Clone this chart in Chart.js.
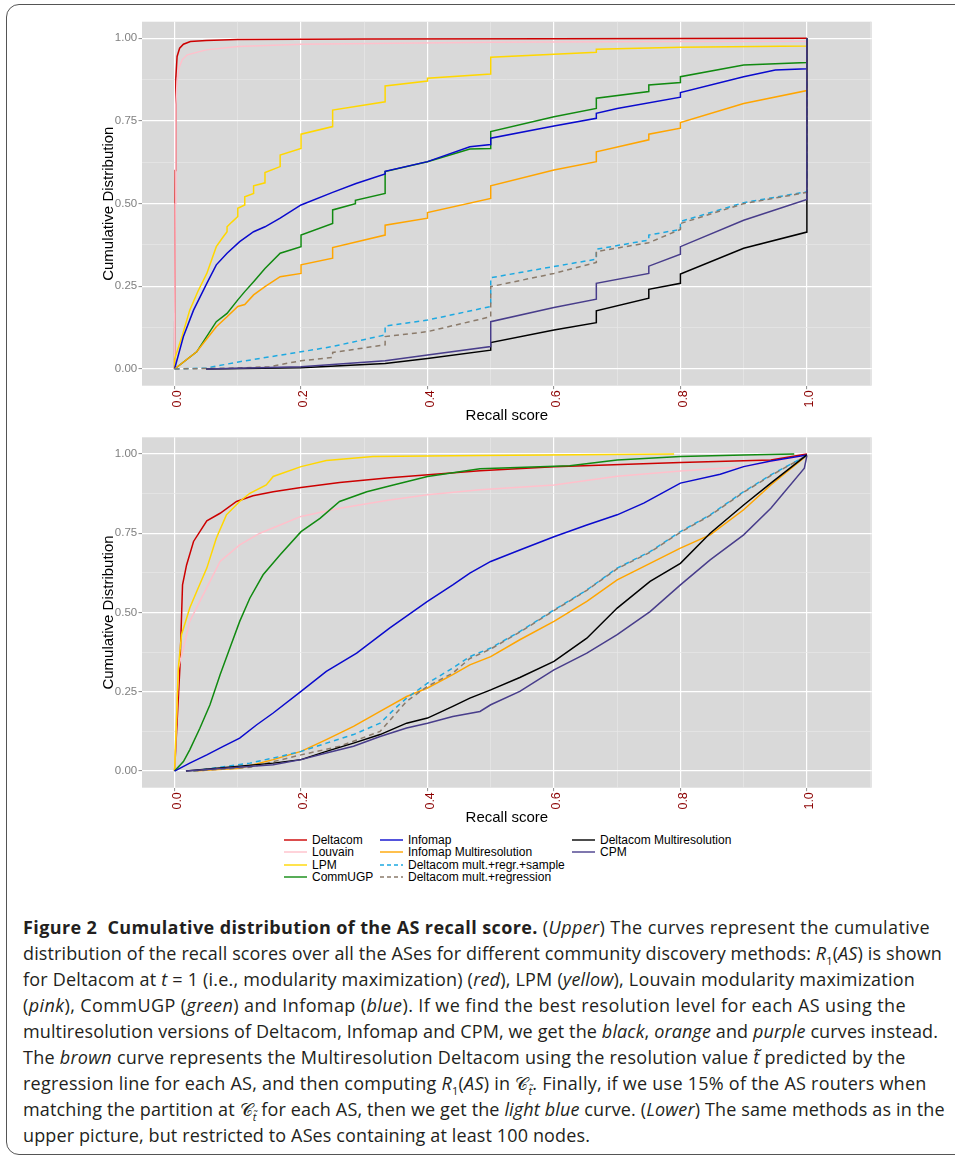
<!DOCTYPE html>
<html><head><meta charset="utf-8">
<script src="https://cdn.jsdelivr.net/npm/chart.js@4.4.0/dist/chart.umd.min.js"></script>
<style>
html,body{margin:0;padding:0;background:#fff}
body{width:955px;height:1161px;position:relative;overflow:hidden;font-family:'Liberation Sans',Arial,sans-serif}
#frame{position:absolute;left:6px;top:4px;width:1000px;height:1151px;border:1.3px solid #555;border-radius:13px;box-sizing:border-box}
#c1{position:absolute;left:0;top:0}
#c2{position:absolute;left:0;top:425px}
.lt{position:absolute;font-size:12px;line-height:14px;color:#000;white-space:nowrap}
.lk{position:absolute}
#caption{position:absolute;left:23px;top:914px;font-family:'Open Sans',sans-serif;font-size:18px;line-height:26px;color:#231f20;white-space:nowrap}
#caption div{height:26px}
#caption span.ln{display:inline-block}
#caption b{font-weight:700}
#caption sub{font-size:11px}
</style></head><body>
<div id="frame"></div>
<canvas id="c1" width="955" height="425"></canvas>
<canvas id="c2" width="955" height="405"></canvas>
<div id="legend"></div>
<div id="caption">
<div><span class="ln"><b>Figure 2&nbsp; Cumulative distribution of the AS recall score.</b> (<i>Upper</i>) The curves represent the cumulative</span></div>
<div><span class="ln">distribution of the recall scores over all the ASes for different community discovery methods: <i>R</i><sub>1</sub>(<i>AS</i>) is shown</span></div>
<div><span class="ln">for Deltacom at <i>t</i> = 1 (i.e., modularity maximization) (<i>red</i>), LPM (<i>yellow</i>), Louvain modularity maximization</span></div>
<div><span class="ln">(<i>pink</i>), CommUGP (<i>green</i>) and Infomap (<i>blue</i>). If we find the best resolution level for each AS using the</span></div>
<div><span class="ln">multiresolution versions of Deltacom, Infomap and CPM, we get the <i>black</i>, <i>orange</i> and <i>purple</i> curves instead.</span></div>
<div><span class="ln">The <i>brown</i> curve represents the Multiresolution Deltacom using the resolution value <i>t̃</i> predicted by the</span></div>
<div><span class="ln">regression line for each AS, and then computing <i>R</i><sub>1</sub>(<i>AS</i>) in 𝒞<sub><i>t̃</i></sub>. Finally, if we use 15% of the AS routers when</span></div>
<div><span class="ln">matching the partition at 𝒞<sub><i>t̃</i></sub> for each AS, then we get the <i>light blue</i> curve. (<i>Lower</i>) The same methods as in the</span></div>
<div><span class="ln">upper picture, but restricted to ASes containing at least 100 nodes.</span></div>
</div>
<script>
// ---------- series meta ----------
const seriesNames = ['Deltacom','Louvain','LPM','CommUGP','Infomap','Infomap Multiresolution','Deltacom mult.+regr.+sample','Deltacom mult.+regression','Deltacom Multiresolution','CPM'];
const seriesColors = ['#CC0000','#FFC0CB','#FFD700','#118A11','#0A0ACD','#FFA500','#1EA9E1','#8B7B6B','#000000','#483D8B'];
const seriesDashed = [false,false,false,false,false,false,true,true,false,false];

// ---------- axis ticks ----------
const xMajorValues = [0,0.2,0.4,0.6,0.8,1.0];
const xTickLabels = ['0.0','0.2','0.4','0.6','0.8','1.0'];
const xMinorValues = [0.1,0.3,0.5,0.7,0.9,1.1];
const yMajorValues = [0,0.25,0.5,0.75,1.0];
const yTickLabels = ['0.00','0.25','0.50','0.75','1.00'];
const yMinorValues = [0.125,0.375,0.625,0.875];

// ---------- upper panel data: [recall score, cumulative] ----------
const upDeltacom = [[0,0],[0.001,0.6],[0.002,0.88],[0.004,0.945],[0.008,0.97],[0.014,0.982],[0.025,0.99],[0.05,0.993],[0.1,0.996],[0.3,0.998],[0.6,0.999],[1,1]];
const upLouvain = [[0,0],[0.001,0.5],[0.002,0.8],[0.004,0.87],[0.007,0.91],[0.012,0.935],[0.02,0.95],[0.05,0.965],[0.1,0.975],[0.2,0.982],[0.5,0.988],[0.8,0.99],[1,0.991],[1,1]];
const upLPM = [[0,0],[0,0.03],[0.012,0.1],[0.024,0.178],[0.037,0.235],[0.051,0.289],[0.066,0.37],[0.077,0.40],[0.083,0.415],[0.083,0.43],[0.091,0.445],[0.1,0.461],[0.1,0.486],[0.111,0.496],[0.111,0.521],[0.125,0.531],[0.125,0.554],[0.143,0.563],[0.143,0.594],[0.167,0.612],[0.167,0.647],[0.2,0.667],[0.2,0.71],[0.25,0.733],[0.25,0.783],[0.333,0.808],[0.333,0.856],[0.4,0.871],[0.4,0.879],[0.5,0.892],[0.5,0.943],[0.667,0.958],[0.667,0.967],[0.8,0.973],[1,0.977],[1,1]];
const upCommUGP = [[0,0],[0.035,0.052],[0.066,0.143],[0.083,0.168],[0.1,0.209],[0.111,0.234],[0.125,0.264],[0.143,0.304],[0.167,0.35],[0.2,0.37],[0.2,0.405],[0.25,0.44],[0.25,0.481],[0.286,0.50],[0.286,0.51],[0.333,0.531],[0.333,0.597],[0.4,0.627],[0.467,0.665],[0.5,0.667],[0.5,0.718],[0.6,0.763],[0.667,0.788],[0.667,0.819],[0.75,0.839],[0.75,0.859],[0.8,0.866],[0.8,0.884],[0.9,0.919],[1,0.927],[1,1]];
const upInfomap = [[0,0],[0.014,0.098],[0.03,0.178],[0.051,0.259],[0.066,0.315],[0.083,0.35],[0.103,0.385],[0.125,0.415],[0.143,0.43],[0.167,0.456],[0.2,0.496],[0.25,0.534],[0.287,0.561],[0.333,0.59],[0.333,0.598],[0.4,0.627],[0.467,0.672],[0.5,0.679],[0.5,0.698],[0.6,0.735],[0.667,0.758],[0.667,0.773],[0.7,0.788],[0.8,0.822],[0.8,0.836],[0.9,0.884],[0.95,0.904],[1,0.908],[1,1]];
const upInfomapMulti = [[0,0],[0.035,0.052],[0.066,0.128],[0.083,0.158],[0.1,0.189],[0.111,0.195],[0.125,0.224],[0.143,0.249],[0.167,0.279],[0.2,0.289],[0.2,0.315],[0.25,0.335],[0.25,0.367],[0.333,0.405],[0.333,0.435],[0.4,0.456],[0.4,0.473],[0.5,0.516],[0.5,0.554],[0.6,0.602],[0.667,0.627],[0.667,0.657],[0.75,0.693],[0.75,0.71],[0.8,0.728],[0.8,0.745],[0.9,0.803],[1,0.842],[1,1]];
const upRegrSample = [[0,0],[0.05,0.003],[0.103,0.022],[0.2,0.052],[0.25,0.068],[0.333,0.103],[0.333,0.13],[0.4,0.148],[0.5,0.189],[0.5,0.276],[0.6,0.31],[0.667,0.332],[0.667,0.362],[0.75,0.39],[0.75,0.405],[0.8,0.422],[0.8,0.446],[0.9,0.503],[1,0.536],[1,1]];
const upRegression = [[0,0],[0.1,0.003],[0.15,0.007],[0.2,0.025],[0.25,0.035],[0.25,0.05],[0.333,0.073],[0.333,0.098],[0.4,0.113],[0.5,0.158],[0.5,0.249],[0.6,0.289],[0.667,0.322],[0.667,0.355],[0.75,0.382],[0.8,0.422],[0.8,0.44],[0.9,0.5],[1,0.534],[1,1]];
const upDeltacomMulti = [[0.05,0],[0.2,0.004],[0.333,0.017],[0.4,0.032],[0.5,0.057],[0.5,0.08],[0.6,0.118],[0.667,0.14],[0.667,0.176],[0.75,0.214],[0.75,0.241],[0.8,0.259],[0.8,0.287],[0.9,0.365],[1,0.414],[1,1]];
const upCPM = [[0.05,0],[0.2,0.007],[0.333,0.025],[0.4,0.042],[0.5,0.068],[0.5,0.143],[0.6,0.186],[0.667,0.211],[0.667,0.259],[0.75,0.289],[0.75,0.311],[0.8,0.347],[0.8,0.37],[0.9,0.45],[1,0.513],[1,1]];

// ---------- lower panel data (ASes with >= 100 nodes) ----------
const lowDeltacom = [[0,0],[0.0084,0.325],[0.0126,0.587],[0.019,0.65],[0.03,0.724],[0.04,0.755],[0.051,0.789],[0.072,0.813],[0.098,0.85],[0.124,0.868],[0.156,0.881],[0.2,0.894],[0.261,0.91],[0.34,0.925],[0.483,0.947],[0.6,0.96],[0.8,0.973],[0.943,0.981],[1,1]];
const lowLouvain = [[0,0],[0.006,0.325],[0.014,0.388],[0.024,0.472],[0.04,0.535],[0.056,0.598],[0.072,0.661],[0.103,0.713],[0.135,0.75],[0.167,0.776],[0.2,0.803],[0.261,0.829],[0.34,0.855],[0.4,0.871],[0.483,0.887],[0.6,0.902],[0.7,0.93],[0.8,0.946],[0.9,0.96],[1,0.995]];
const lowLPM = [[0,0],[0.006,0.325],[0.011,0.43],[0.024,0.514],[0.035,0.566],[0.051,0.64],[0.066,0.734],[0.082,0.808],[0.103,0.85],[0.119,0.876],[0.145,0.902],[0.156,0.929],[0.2,0.96],[0.24,0.979],[0.314,0.992],[0.483,0.995],[0.79,1.0]];
const lowCommUGP = [[0,0],[0.014,0.03],[0.024,0.067],[0.04,0.135],[0.056,0.209],[0.072,0.304],[0.0875,0.388],[0.103,0.472],[0.119,0.545],[0.14,0.619],[0.167,0.682],[0.2,0.755],[0.23,0.797],[0.261,0.85],[0.304,0.881],[0.346,0.902],[0.4,0.929],[0.483,0.953],[0.625,0.963],[0.7,0.981],[0.8,0.992],[0.9,0.997],[0.98,1.0]];
const lowInfomap = [[0,0],[0.024,0.025],[0.051,0.051],[0.077,0.078],[0.103,0.104],[0.13,0.146],[0.156,0.183],[0.2,0.251],[0.24,0.314],[0.288,0.372],[0.34,0.451],[0.4,0.535],[0.44,0.587],[0.467,0.624],[0.5,0.661],[0.546,0.697],[0.6,0.739],[0.652,0.776],[0.7,0.808],[0.742,0.845],[0.8,0.908],[0.863,0.936],[0.9,0.96],[0.943,0.978],[1,0.997]];
const lowInfomapMulti = [[0.03,0],[0.103,0.009],[0.156,0.036],[0.2,0.062],[0.24,0.099],[0.283,0.141],[0.325,0.188],[0.367,0.235],[0.4,0.262],[0.44,0.304],[0.467,0.335],[0.5,0.361],[0.546,0.414],[0.6,0.472],[0.652,0.535],[0.7,0.603],[0.752,0.655],[0.8,0.703],[0.847,0.745],[0.9,0.824],[0.943,0.902],[1,0.995]];
const lowRegrSample = [[0.03,0],[0.082,0.015],[0.119,0.025],[0.167,0.046],[0.2,0.062],[0.24,0.088],[0.283,0.115],[0.325,0.151],[0.35,0.20],[0.367,0.23],[0.4,0.277],[0.44,0.325],[0.467,0.361],[0.5,0.388],[0.546,0.44],[0.6,0.508],[0.652,0.571],[0.7,0.64],[0.752,0.692],[0.8,0.755],[0.847,0.808],[0.9,0.881],[0.943,0.934],[1,0.995]];
const lowRegression = [[0.03,0],[0.12,0.012],[0.2,0.051],[0.261,0.078],[0.325,0.125],[0.367,0.22],[0.4,0.267],[0.44,0.309],[0.467,0.355],[0.5,0.385],[0.546,0.438],[0.6,0.506],[0.652,0.57],[0.7,0.638],[0.752,0.69],[0.8,0.753],[0.847,0.806],[0.9,0.879],[0.943,0.932],[1,0.995]];
const lowDeltacomMulti = [[0.018,0],[0.156,0.025],[0.2,0.036],[0.24,0.062],[0.283,0.088],[0.325,0.115],[0.367,0.151],[0.4,0.167],[0.44,0.204],[0.467,0.23],[0.5,0.256],[0.546,0.295],[0.6,0.346],[0.652,0.419],[0.7,0.514],[0.752,0.598],[0.8,0.655],[0.847,0.75],[0.9,0.839],[0.943,0.908],[1,0.997]];
const lowCPM = [[0.018,0],[0.156,0.02],[0.2,0.036],[0.24,0.057],[0.283,0.078],[0.325,0.109],[0.367,0.136],[0.4,0.151],[0.44,0.172],[0.483,0.188],[0.5,0.209],[0.546,0.251],[0.6,0.319],[0.652,0.372],[0.7,0.43],[0.752,0.503],[0.8,0.587],[0.847,0.666],[0.9,0.745],[0.943,0.829],[0.996,0.955],[1,0.995]];

const upperSeries = [upDeltacom,upLouvain,upLPM,upCommUGP,upInfomap,upInfomapMulti,upRegrSample,upRegression,upDeltacomMulti,upCPM];
const lowerSeries = [lowDeltacom,lowLouvain,lowLPM,lowCommUGP,lowInfomap,lowInfomapMulti,lowRegrSample,lowRegression,lowDeltacomMulti,lowCPM];

// caption line right edges (px) in the figure, used only for text fitting
const captionRightEdges = [930, 942, 915, 906, 938, 906, 927, 945, 590];

// ---------- helpers ----------
const near = (a,b)=>Math.abs(a-b)<1e-6;
const idxIn = (arr,v)=>arr.findIndex(a=>near(a,v));
const FONT = "'Liberation Sans', Arial, sans-serif";
const MAJOR_GRID = '#FFFFFF', MINOR_GRID = '#E6E6E6', PANEL = '#D9D9D9', TICK = '#8C8C8C';

const panelBg = {id:'panelBg', beforeDraw(chart){const {ctx,chartArea:a}=chart;ctx.save();ctx.fillStyle=PANEL;ctx.fillRect(a.left,a.top,a.right-a.left,a.bottom-a.top);ctx.restore();}};

function gridOpts(majors){
  return {
    color: c => (c.tick && idxIn(majors,c.tick.value)>=0) ? MAJOR_GRID : MINOR_GRID,
    lineWidth: c => (c.tick && idxIn(majors,c.tick.value)>=0) ? 1.2 : 0.7,
    tickColor: c => (c.tick && idxIn(majors,c.tick.value)>=0) ? TICK : 'rgba(0,0,0,0)',
    tickWidth: 1, tickLength: 3.5, drawTicks: true, drawOnChartArea: true
  };
}

function buildChart(canvas, seriesData, cfg){
  const datasets = seriesNames.map((name,i)=>({
    label:name,
    data:seriesData[i].map(p=>({x:p[0],y:p[1]})),
    borderColor:seriesColors[i],
    backgroundColor:seriesColors[i],
    borderWidth:1.5,
    borderDash: seriesDashed[i]?[5,4]:[],
    pointRadius:0, fill:false, tension:0,
    order: seriesNames.length - i
  }));
  return new Chart(canvas,{
    type:'line',
    data:{datasets},
    options:{
      responsive:false, animation:false, devicePixelRatio:1,
      layout:{padding:{left:0,right:83.3,top:cfg.padTop,bottom:0}},
      plugins:{legend:{display:false},tooltip:{enabled:false},title:{display:false}},
      scales:{
        x:{type:'linear',min:-0.0515,max:1.1025,
          afterBuildTicks:s=>{s.ticks=[...xMajorValues,...xMinorValues].sort((a,b)=>a-b).map(v=>({value:v}));},
          afterFit:s=>{s.height=cfg.xAxisHeight;},
          grid:gridOpts(xMajorValues),
          border:{display:false},
          ticks:{autoSkip:false,minRotation:90,maxRotation:90,padding:1,labelOffset:3,color:'#8B0000',
            font:{family:FONT,size:12.5},
            callback:v=>{const k=idxIn(xMajorValues,v);return k>=0?xTickLabels[k]:'';}},
          title:{display:true,text:'Recall score',color:'#000',font:{family:FONT,size:15},padding:{top:0,bottom:cfg.xTitlePad}}
        },
        y:{type:'linear',min:cfg.yMin,max:cfg.yMax,
          afterBuildTicks:s=>{s.ticks=[...yMajorValues,...yMinorValues].sort((a,b)=>a-b).map(v=>({value:v}));},
          afterFit:s=>{s.width=142;},
          grid:gridOpts(yMajorValues),
          border:{display:false},
          ticks:{autoSkip:false,padding:1.3,color:'#7F7F7F',font:{family:FONT,size:11.5},
            callback:v=>{const k=idxIn(yMajorValues,v);return k>=0?yTickLabels[k]:'';}},
          title:{display:true,text:'Cumulative Distribution',color:'#000',font:{family:FONT,size:15},padding:{top:99.5,bottom:0}}
        }
      }
    },
    plugins:[panelBg]
  });
}

buildChart(document.getElementById('c1'), upperSeries, {padTop:21.7, xAxisHeight:39.3, xTitlePad:0, yMin:-0.0505, yMax:1.0502});
buildChart(document.getElementById('c2'), lowerSeries, {padTop:12.3, xAxisHeight:42.3, xTitlePad:3, yMin:-0.0525, yMax:1.0525});

// ---------- legend (HTML) ----------
const legendColumns = [[0,1,2,3],[4,5,6,7],[8,9]];
const legendColX = [284, 380, 572];
const legendRowY = [840.4, 852.4, 864.5, 876.7];
const lg = document.getElementById('legend');
legendColumns.forEach((col,ci)=>{
  col.forEach((si,ri)=>{
    const x = legendColX[ci], y = legendRowY[ri];
    const svg = document.createElementNS('http://www.w3.org/2000/svg','svg');
    svg.setAttribute('width','24'); svg.setAttribute('height','4');
    svg.setAttribute('class','lk');
    svg.style.left = x+'px'; svg.style.top = (y-2)+'px';
    const ln = document.createElementNS('http://www.w3.org/2000/svg','line');
    ln.setAttribute('x1','0'); ln.setAttribute('y1','2'); ln.setAttribute('x2','23'); ln.setAttribute('y2','2');
    ln.setAttribute('stroke',seriesColors[si]); ln.setAttribute('stroke-width','1.4');
    if(seriesDashed[si]) ln.setAttribute('stroke-dasharray','4,3');
    svg.appendChild(ln); lg.appendChild(svg);
    const t = document.createElement('div');
    t.className='lt'; t.textContent=seriesNames[si];
    t.style.left=(x+28)+'px'; t.style.top=(y-7)+'px';
    lg.appendChild(t);
  });
});

// ---------- caption line fitting (letter-spacing so each line spans its width) ----------
document.querySelectorAll('#caption span.ln').forEach((el,i)=>{
  const target = captionRightEdges[i] - 23;
  const w = el.getBoundingClientRect().width;
  const n = el.textContent.length;
  const ls = (target - w) / n;
  el.style.letterSpacing = ls.toFixed(3) + 'px';
});
</script>
</body></html>
